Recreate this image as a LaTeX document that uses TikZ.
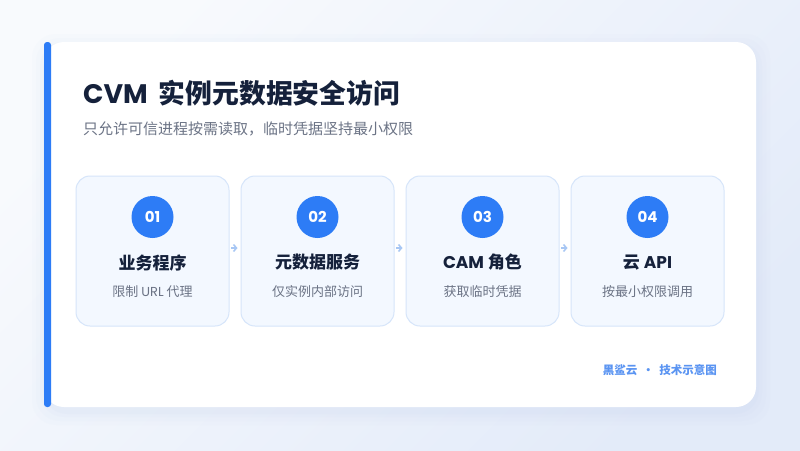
\documentclass[tikz,border=0pt]{standalone}
\usepackage{fontspec}
\setmainfont{Noto Sans CJK SC}
\newfontfamily\lat{Poppins}
\usetikzlibrary{arrows.meta}
\definecolor{bgA}{HTML}{F8FAFD}
\definecolor{bgB}{HTML}{E3EBF9}
\definecolor{accent}{HTML}{2D7CF6}
\definecolor{titlec}{HTML}{15213B}
\definecolor{subc}{HTML}{6B7385}
\definecolor{boxfill}{HTML}{F3F8FF}
\definecolor{boxline}{HTML}{D6E5FA}
\definecolor{arrowc}{HTML}{A8C7F4}
\definecolor{footc}{HTML}{5A94F2}
\definecolor{shadowc}{HTML}{C9D7EE}
\begin{document}
\begin{tikzpicture}[x=1pt,y=-1pt,
  stepbox/.style={draw=boxline,line width=1pt,fill=boxfill,rounded corners=14pt,minimum width=153pt,minimum height=150pt,inner sep=0pt},
  numdot/.style={circle,fill=accent,minimum size=42pt,inner sep=0pt,text=white,font=\lat\fontsize{15}{16}\selectfont\bfseries},
  headtxt/.style={text=titlec,font=\fontsize{17}{20}\selectfont\bfseries,inner sep=0pt},
  subtxt/.style={text=subc,font=\fontsize{13}{16}\selectfont,inner sep=0pt},
  flow/.style={draw=arrowc,line width=1.5pt,-{Straight Barb[length=3pt,width=7pt]}}
]
\useasboundingbox (0,0) rectangle (800,450);
\shade[top color=bgA,bottom color=bgB,shading angle=45] (0,0) rectangle (800,450);
% shadow
\foreach \s/\o in {14/0.05,10/0.06,6/0.08,3/0.10}{
  \fill[shadowc,opacity=\o,rounded corners=24pt] (44-\s+2,42-\s+6) rectangle (756+\s,407+\s+4);
}
% card
\fill[white,rounded corners=20pt] (44,42) rectangle (756,407);
\fill[accent,rounded corners=3pt] (44,42) rectangle (51,407);
% title
\node[anchor=base west,inner sep=0pt,text=titlec,font=\fontsize{26.8}{30}\selectfont\bfseries] (title) at (83,103) {{\lat\bfseries CVM}\hspace{5pt} 实例元数据安全访问};
\node[anchor=base west,inner sep=0pt,text=subc,font=\fontsize{15}{18}\selectfont] (subtitle) at (83,134) {只允许可信进程按需读取，临时凭据坚持最小权限};
% boxes
\node[stepbox] (b1) at (152.5,251) {};
\node[stepbox] (b2) at (317.5,251) {};
\node[stepbox] (b3) at (482.5,251) {};
\node[stepbox] (b4) at (647.5,251) {};
\foreach \b/\n/\h/\t in {b1/01/业务程序/限制\ {\lat URL}\ 代理,b2/02/元数据服务/仅实例内部访问,b3/03/{\lat\bfseries CAM} 角色/获取临时凭据,b4/04/云 {\lat\bfseries API}/按最小权限调用}{
  \node[numdot] (\b n) at ([yshift=34pt]\b.center) {\n};
  \node[headtxt] (\b h) at ([yshift=-11.5pt]\b.center) {\h};
  \node[subtxt] (\b s) at ([yshift=-40.5pt]\b.center) {\t};
}
% arrows
\draw[flow] ([xshift=1.5pt,yshift=3pt]b1.east) -- ([xshift=-3pt,yshift=3pt]b2.west);
\draw[flow] ([xshift=1.5pt,yshift=3pt]b2.east) -- ([xshift=-3pt,yshift=3pt]b3.west);
\draw[flow] ([xshift=1.5pt,yshift=3pt]b3.east) -- ([xshift=-3pt,yshift=3pt]b4.west);
% footer
\node[anchor=east,inner sep=0pt,text=footc,font=\fontsize{11.5}{14}\selectfont\bfseries] (foot) at (717,370) {黑鲨云 \ · \ 技术示意图};
\end{tikzpicture}
\end{document}
